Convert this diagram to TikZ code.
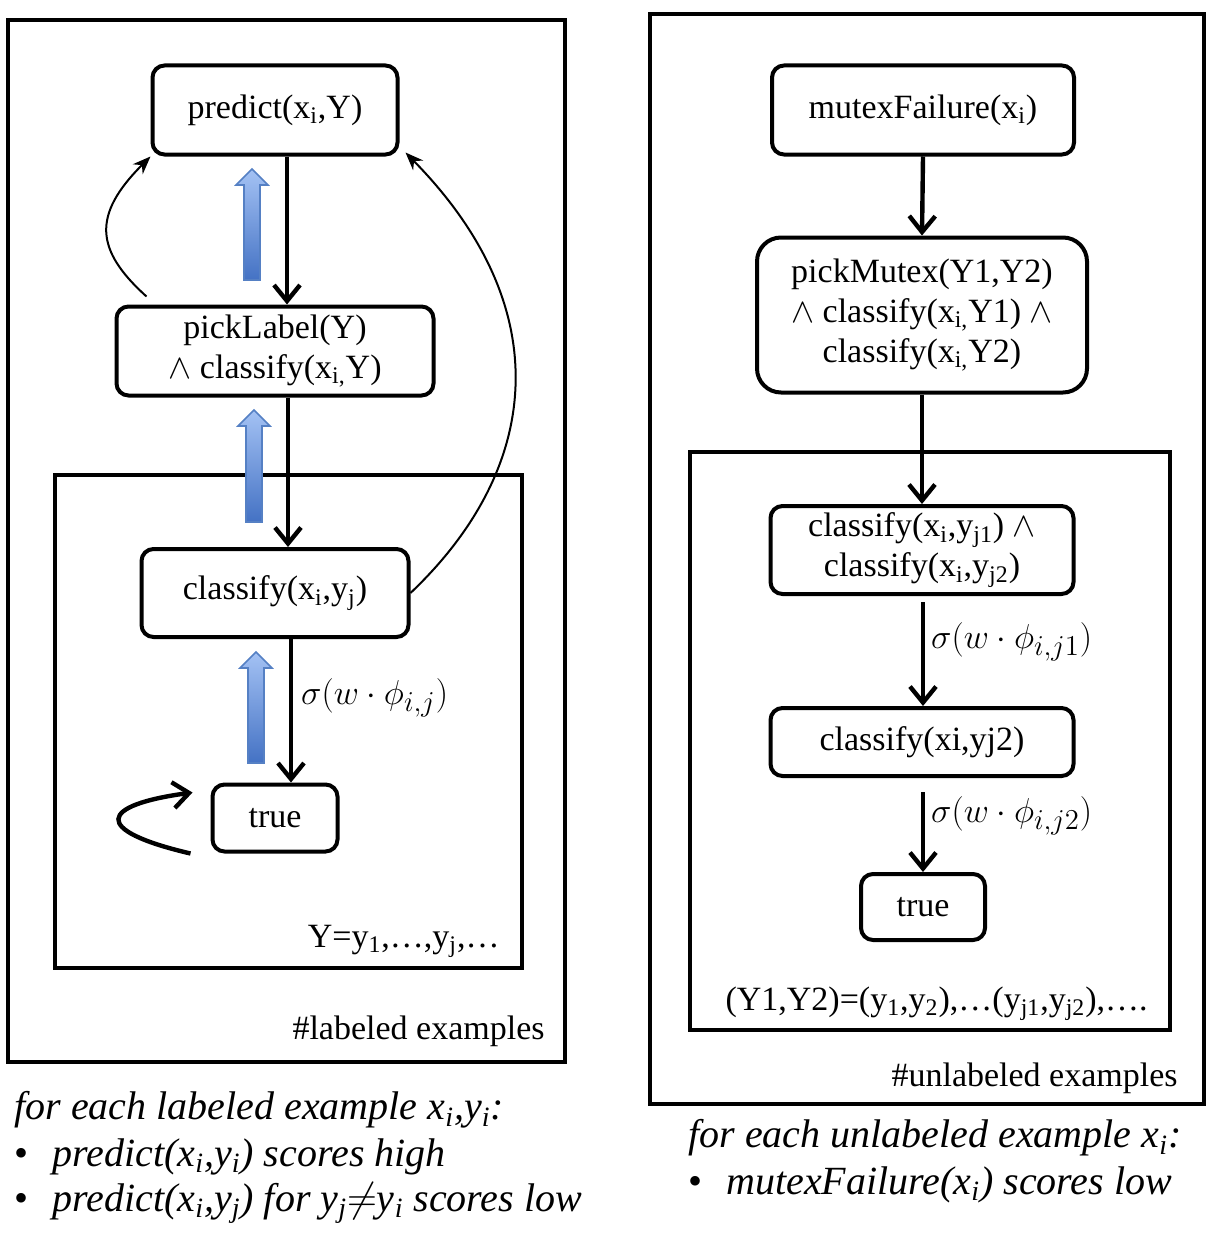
\documentclass[tikz,border=0pt]{standalone}
\usepackage{fontspec}
\setmainfont{Liberation Serif}
\usetikzlibrary{arrows.meta}

\definecolor{pushlight}{HTML}{A4C2F4}
\definecolor{pushdark}{HTML}{4472C4}
\definecolor{pushedge}{HTML}{5580C4}

\newcommand{\sub}[1]{\textsubscript{#1}}

\tikzset{
  frame/.style={line width=2pt},
  state/.style={draw, line width=2pt, rounded corners=6pt, align=center,
    inner sep=0pt, font=\fontsize{17}{20}\selectfont},
  flow/.style={line width=2.2pt, -{Straight Barb[length=8pt,width=13pt,line width=2.2pt]}},
  jump/.style={line width=1pt, -{Stealth[length=9pt,width=7pt]}},
  push/.style={draw=pushedge, line width=0.8pt, top color=pushlight, bottom color=pushdark},
  note/.style={font=\fontsize{17}{20}\selectfont, inner sep=0pt},
  weight/.style={font=\fontsize{19}{21}\selectfont, inner sep=0pt, anchor=west},
  bullets/.style={font=\fontsize{20}{23}\selectfont\itshape, inner sep=0pt, anchor=west}
}

\begin{document}
\begin{tikzpicture}[x=0.5pt, y=-0.5pt]
  \useasboundingbox (0,0) rectangle (1219,1236);

  % plates
  \draw[frame] (8,20) rectangle (565,1062);
  \draw[frame] (55,475) rectangle (522,968);
  \draw[frame] (650,14) rectangle (1204,1104);
  \draw[frame] (690,452) rectangle (1170,1030);

  % labeled side
  \node[state, minimum width=122.5pt, minimum height=44.5pt] (predict) at (275,110) {predict(x\sub{i},Y)};
  \node[state, minimum width=158.5pt, minimum height=44.5pt] (pickL) at (275,351)
    {pickLabel(Y)\\ $\wedge$ classify(x\sub{i,}Y)};
  \node[state, minimum width=133.5pt, minimum height=44pt] (clsL) at (275,593) {classify(x\sub{i},y\sub{j})};
  \node[state, minimum width=62.5pt, minimum height=33.5pt] (trueL) at (275,818) {true};

  \draw[flow] ([xshift=6pt]predict.south) -- ([xshift=6pt]pickL.north);
  \draw[flow] ([xshift=6.5pt]pickL.south) -- ([xshift=6.5pt]clsL.north);
  \draw[flow] ([xshift=8pt]clsL.south) -- ([xshift=8pt]trueL.north)
    node[weight, pos=0.41, xshift=4pt] (wL) {$\sigma\bigl(w\cdot\phi_{i,j}\bigr)$};
  \draw[flow] ([xshift=-10pt]trueL.south west) .. controls (90,830) and (100,805) .. ([shift={(-9pt,-5pt)}]trueL.north west);

  \draw[jump] ([shift={(16pt,4pt)}]pickL.north west) .. controls (95,250) and (92,215) .. (predict.south west);
  \draw[jump] (clsL.east) .. controls (540,470) and (560,310) .. ([shift={(3pt,2pt)}]predict.south east);

  % gradient pushes
  \foreach \x/\t/\b in {252/169/280, 254/410/522, 256/652/763}
    \shade[push] ({\x-8},\b) -- ({\x-8},\t+16) -- ({\x-16},\t+16) -- (\x,\t)
      -- ({\x+16},\t+16) -- ({\x+8},\t+16) -- ({\x+8},\b) -- cycle;

  \node[note, anchor=east] (rangeL) at (500,941) {Y=y\sub{1},…,y\sub{j},…};
  \node[note, anchor=east] (plateL) at (545,1031) {\#labeled examples};

  % unlabeled side
  \node[state, minimum width=151pt, minimum height=44.5pt] (mutex) at (923,110) {mutexFailure(x\sub{i})};
  \node[state, rounded corners=12pt, minimum width=165pt, minimum height=77.5pt] (pickM) at (922,315)
    {pickMutex(Y1,Y2)\\ $\wedge$ classify(x\sub{i,}Y1) $\wedge$\\ classify(x\sub{i,}Y2)};
  \node[state, minimum width=151.5pt, minimum height=44pt] (pairM) at (922,550)
    {classify(x\sub{i},y\sub{j1}) $\wedge$\\ classify(x\sub{i},y\sub{j2})};
  \node[state, minimum width=151.5pt, minimum height=34pt] (clsM) at (922,742) {classify(xi,yj2)};
  \node[state, minimum width=62pt, minimum height=33pt] (trueM) at (923,907) {true};

  \draw[flow] (mutex.south) -- (pickM.north);
  \draw[flow] (pickM.south) -- (pairM.north);
  \draw[flow, shorten <=3pt] ([xshift=0.5pt]pairM.south) -- ([xshift=0.5pt]clsM.north)
    node[weight, pos=0.42, xshift=3pt] (wM1) {$\sigma\bigl(w\cdot\phi_{i,j1}\bigr)$};
  \draw[flow, shorten <=7pt] ([xshift=0.5pt]clsM.south) -- (trueM.north)
    node[weight, pos=0.4, xshift=3pt] (wM2) {$\sigma\bigl(w\cdot\phi_{i,j2}\bigr)$};

  \node[note, anchor=east] (rangeM) at (1148,1004)
    {(Y1,Y2)=(y\sub{1},y\sub{2}),…(y\sub{j1},y\sub{j2}),….};
  \node[note, anchor=east] (plateM) at (1178,1078) {\#unlabeled examples};

  % objectives
  \node[bullets] (headL) at (14,1110) {for each labeled example x\sub{i},y\sub{i}:};
  \node[bullets] (dotL1) at (14,1157) {\upshape\textbullet\hspace{12pt}\itshape predict(x\sub{i},y\sub{i}) scores high};
  \node[bullets] (dotL2) at (14,1203) {\upshape\textbullet\hspace{12pt}\itshape predict(x\sub{i},y\sub{j}) for y\sub{j}$\neq$y\sub{i} scores low};
  \node[bullets] (headM) at (688,1138) {for each unlabeled example x\sub{i}:};
  \node[bullets] (dotM1) at (688,1185) {\upshape\textbullet\hspace{12pt}\itshape mutexFailure(x\sub{i}) scores low};
\end{tikzpicture}
\end{document}
